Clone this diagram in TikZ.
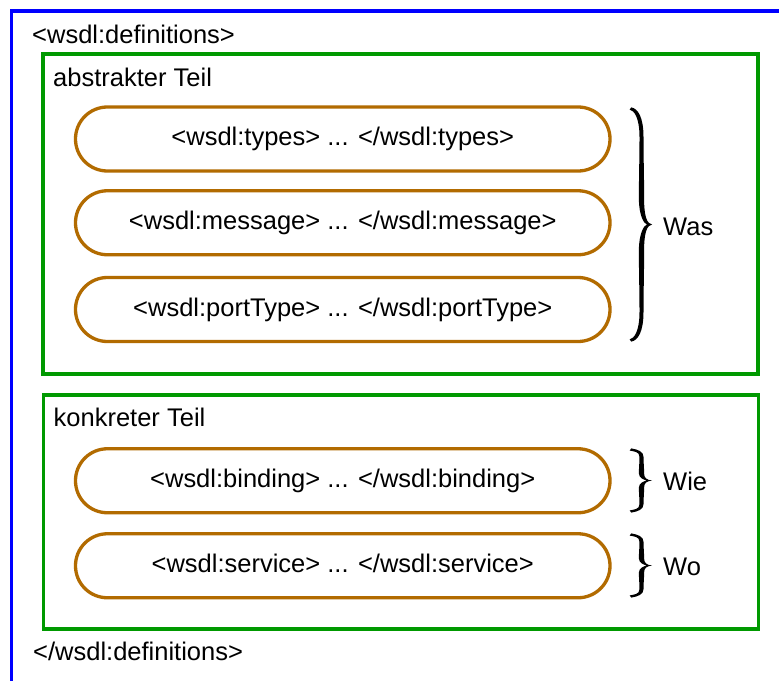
\documentclass[tikz,border=0pt]{standalone}
\usepackage{fontspec}
\setmainfont{Liberation Sans}
\definecolor{wblue}{RGB}{0,0,255}
\definecolor{wgreen}{RGB}{0,153,0}
\definecolor{wbrown}{RGB}{178,107,0}
\newcommand{\curlybrace}[3]{% #1 = left x, #2 = top y, #3 = bottom y (y grows downwards)
  \pgfmathsetmacro\bxO{#1}%
  \pgfmathsetmacro\byT{#2}%
  \pgfmathsetmacro\byB{#3}%
  \pgfmathsetmacro\bD{(#3-#2)/2}%
  \pgfmathsetmacro\byM{(#2+#3)/2}%
  \pgfmathsetmacro\bxR{#1+14.1}%
  \pgfmathsetmacro\bxL{#1+8.9}%
  \fill[black]
    (\bxO+1.2,\byT-0.6)
    .. controls (\bxO+8,\byT+0.5) and (\bxR-0.6,\byT+0.08*\bD) .. (\bxR-0.6,\byT+0.25*\bD)
    .. controls (\bxR-0.6,\byT+0.45*\bD) and (\bxR,\byM-0.45*\bD) .. (\bxR,\byM-0.22*\bD)
    .. controls (\bxR,\byM-0.07*\bD) and (\bxO+17,\byM-0.6) .. (\bxO+22,\byM)
    .. controls (\bxO+17,\byM+0.6) and (\bxR,\byM+0.07*\bD) .. (\bxR,\byM+0.22*\bD)
    .. controls (\bxR,\byM+0.45*\bD) and (\bxR-0.6,\byB-0.45*\bD) .. (\bxR-0.6,\byB-0.25*\bD)
    .. controls (\bxR-0.6,\byB-0.08*\bD) and (\bxO+8,\byB-0.5) .. (\bxO+1.2,\byB+0.6)
    -- (\bxO-0.3,\byB-1.6)
    .. controls (\bxO+4,\byB-2.5) and (\bxL+0.6,\byB-0.08*\bD) .. (\bxL+0.6,\byB-0.25*\bD)
    .. controls (\bxL+0.6,\byB-0.45*\bD) and (\bxL,\byM+0.45*\bD) .. (\bxL,\byM+0.22*\bD)
    .. controls (\bxL,\byM+0.08*\bD) and (\bxO+14,\byM+0.5) .. (\bxO+17,\byM)
    .. controls (\bxO+14,\byM-0.5) and (\bxL,\byM-0.08*\bD) .. (\bxL,\byM-0.22*\bD)
    .. controls (\bxL,\byM-0.45*\bD) and (\bxL+0.6,\byT+0.45*\bD) .. (\bxL+0.6,\byT+0.25*\bD)
    .. controls (\bxL+0.6,\byT+0.08*\bD) and (\bxO+4,\byT+2.5) .. (\bxO-0.3,\byT+1.6) -- cycle;%
}
\tikzset{
  outerframe/.style={draw=wblue, line width=3.3pt},
  partbox/.style={draw=wgreen, line width=3.3pt, inner sep=0pt, minimum width=715pt},
  pill/.style={draw=wbrown, line width=3.3pt, rounded corners=31.9pt,
    minimum width=534.5pt, minimum height=64pt, inner sep=0pt,
    text height=18.6pt, text depth=5.4pt},
  lbl/.style={anchor=base west, inner sep=0pt},
}
\begin{document}
\begin{tikzpicture}[x=1pt, y=-1pt, font=\fontsize{25.5}{30}\selectfont]
\useasboundingbox (0,0) rectangle (779,680);
\clip (0,0) rectangle (779,680);
\fill[white] (0,0) rectangle (779,680);
% outer wsdl:definitions frame (extends past the right and bottom edges)
\coordinate (fbl) at (11.5,700);
\coordinate (ftl) at (11.5,11);
\coordinate (ftr) at (800,11);
\draw[outerframe] (fbl) -- (ftl) -- (ftr);
\node[lbl] (defopen) at (32,43) {<wsdl:definitions>};
\node[lbl] (defclose) at (33,660) {</wsdl:definitions>};
% abstract part
\node[partbox, minimum height=320pt] (abstr) at (400.5,214) {};
\node[lbl] (abstrlbl) at (53,86) {abstrakter Teil};
\node[pill] (types) at (342.75,139) {<wsdl:types> ... </wsdl:types>};
\node[pill] (message) at (342.75,222.75) {<wsdl:message> ... </wsdl:message>};
\node[pill] (porttype) at (342.75,309.5) {<wsdl:portType> ... </wsdl:portType>};
\curlybrace{630}{108}{341}
\node[lbl] (was) at (663,235) {Was};
% concrete part
\node[partbox, minimum height=234pt] (konkr) at (400.75,512) {};
\node[lbl] (konkrlbl) at (53.5,426.7) {konkreter Teil};
\node[pill] (binding) at (342.75,480.75) {<wsdl:binding> ... </wsdl:binding>};
\node[pill] (service) at (342.75,565.75) {<wsdl:service> ... </wsdl:service>};
\curlybrace{630}{449}{512}
\node[lbl] (wie) at (663,490) {Wie};
\curlybrace{630}{534}{597}
\node[lbl] (wo) at (663,575) {Wo};
\end{tikzpicture}
\end{document}
